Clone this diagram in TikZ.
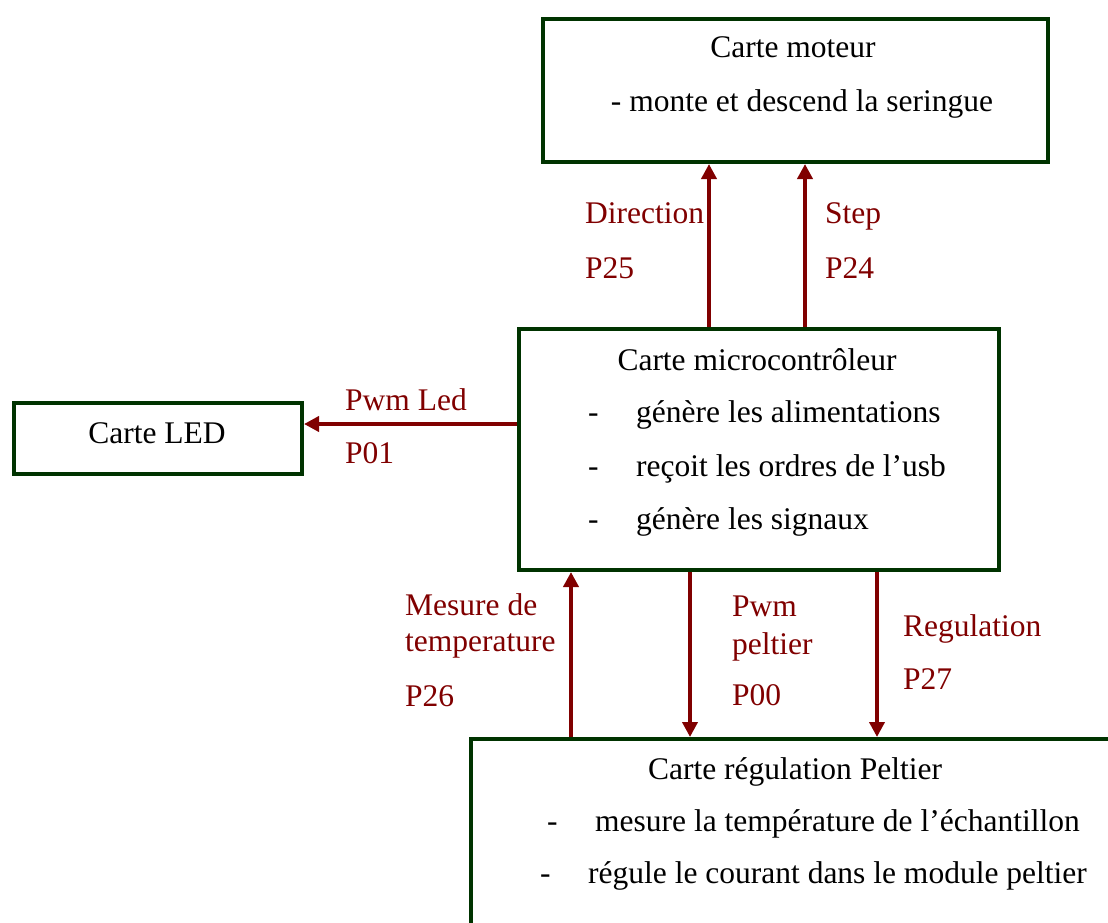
\documentclass[tikz,border=0pt]{standalone}
\usepackage{fontspec}
\setmainfont{Liberation Serif}
\usetikzlibrary{arrows.meta}
\definecolor{bgreen}{HTML}{003300}
\definecolor{sred}{HTML}{800000}
\begin{document}
\begin{tikzpicture}[x=1pt,y=-1pt,
  box/.style={draw=bgreen,line width=4pt,inner sep=0pt,anchor=north west},
  sig/.style={draw=sred,line width=4pt,-{Triangle[length=15pt,width=15pt]}},
  lbl/.style={text=sred,inner sep=0pt,anchor=base west},
  txt/.style={inner sep=0pt,anchor=base west},
  ctxt/.style={inner sep=0pt,anchor=base},
  every node/.style={font=\fontsize{31.5}{36}\selectfont}]
\clip (0,0) rectangle (1108,922);
\useasboundingbox (0,0) rectangle (1108,922);
% boxes
\node[box,minimum width=505pt,minimum height=143pt] (moteur) at (541,17) {};
\node[box,minimum width=288pt,minimum height=71pt] (led) at (12,401) {};
\node[box,minimum width=480pt,minimum height=241pt] (micro) at (517,327) {};
\node[box,minimum width=700pt,minimum height=260pt] (peltier) at (469,737) {};
% box texts
\node[ctxt] (t1) at (793,57) {Carte moteur};
\node[ctxt] (t2) at (802,111) {- monte et descend la seringue};
\node[ctxt] (t3) at (157,443) {Carte LED};
\node[ctxt] (t4) at (757,370) {Carte microcontrôleur};
\node[txt] (d1) at (588,422) {-};
\node[txt] (i1) at (636,422) {génère les alimentations};
\node[txt] (d2) at (588,476) {-};
\node[txt] (i2) at (636,476) {reçoit les ordres de l’usb};
\node[txt] (d3) at (588,529) {-};
\node[txt] (i3) at (636,529) {génère les signaux};
\node[ctxt] (t5) at (795,779) {Carte régulation Peltier};
\node[txt] (d4) at (547,831) {-};
\node[txt] (i4) at (595,831) {mesure la température de l’échantillon};
\node[txt] (d5) at (540,883) {-};
\node[txt] (i5) at (588,883) {régule le courant dans le module peltier};
% connector x positions
\coordinate (xdir) at (709,0);
\coordinate (xstep) at (805,0);
\coordinate (yled) at (0,424);
\coordinate (xmes) at (571,0);
\coordinate (xpwm) at (690,0);
\coordinate (xreg) at (877,0);
% connectors
\draw[sig] (micro.north -| xdir) -- (moteur.south -| xdir);
\draw[sig] (micro.north -| xstep) -- (moteur.south -| xstep);
\draw[sig] (micro.west |- yled) -- (led.east |- yled);
\draw[sig] (peltier.north -| xmes) -- (micro.south -| xmes);
\draw[sig] (micro.south -| xpwm) -- (peltier.north -| xpwm);
\draw[sig] (micro.south -| xreg) -- (peltier.north -| xreg);
% labels
\node[lbl] (l1) at (585,223) {Direction};
\node[lbl] (l2) at (585,278) {P25};
\node[lbl] (l3) at (825,223) {Step};
\node[lbl] (l4) at (825,278) {P24};
\node[lbl] (l5) at (345,410) {Pwm Led};
\node[lbl] (l6) at (345,463) {P01};
\node[lbl] (l7) at (405,615) {Mesure de};
\node[lbl] (l8) at (405,651) {temperature};
\node[lbl] (l9) at (405,706) {P26};
\node[lbl] (l10) at (732,616) {Pwm};
\node[lbl] (l11) at (732,654) {peltier};
\node[lbl] (l12) at (732,705) {P00};
\node[lbl] (l13) at (903,636) {Regulation};
\node[lbl] (l14) at (903,689) {P27};
\end{tikzpicture}
\end{document}
